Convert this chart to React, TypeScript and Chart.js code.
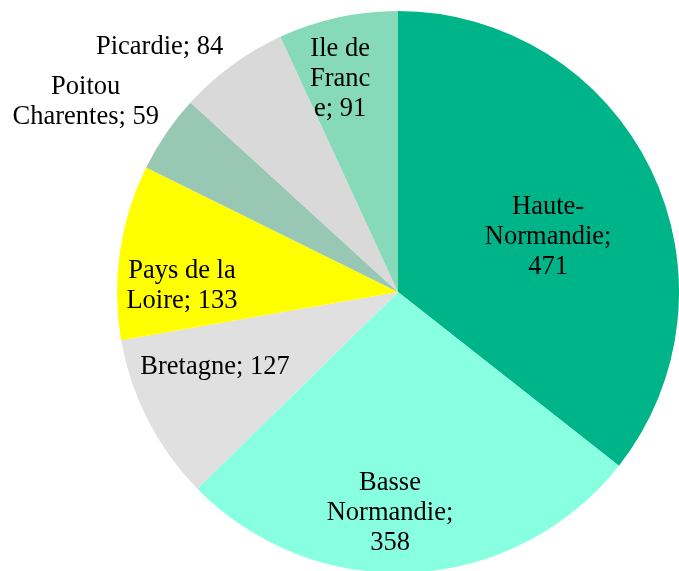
import React, { useEffect, useRef } from "react";
import { Chart, registerables } from "chart.js";

Chart.register(...registerables);

const categories = [
  "Haute-Normandie",
  "Basse Normandie",
  "Bretagne",
  "Pays de la Loire",
  "Poitou Charentes",
  "Picardie",
  "Ile de France",
];
const values = [471, 358, 127, 133, 59, 84, 91];
const colors = ["#00B489", "#88FFE0", "#E0E0E0", "#FFFF00", "#98C8B4", "#D9D9D9", "#86DAB9"];
const labelLines = [
  ["Haute-", "Normandie;", "471"],
  ["Basse", "Normandie;", "358"],
  ["Bretagne; 127"],
  ["Pays de la", "Loire; 133"],
  ["Poitou", "Charentes; 59"],
  ["Picardie; 84"],
  ["Ile de", "Franc", "e; 91"],
];
// label placement: angle offset from slice mid (deg) and radius as fraction of outer radius
const labelAngleOffset = [5.8, 5.2, 4.8, -6.6, -3.1, -8.0, -2.8];
const labelRadius = [0.569, 0.787, 0.704, 0.769, 1.3, 1.217, 0.786];

const FONT = '26.5px "Liberation Serif", "Times New Roman", serif';

const labelPlugin = {
  id: "sliceLabels",
  afterDatasetsDraw(chart: any) {
    const ctx = chart.ctx;
    const meta = chart.getDatasetMeta(0);
    ctx.save();
    ctx.font = FONT;
    ctx.fillStyle = "#000";
    ctx.textAlign = "center";
    ctx.textBaseline = "middle";
    const lh = 30;
    meta.data.forEach((arc: any, i: number) => {
      const p = arc.getProps(["x", "y", "startAngle", "endAngle", "outerRadius"], true);
      const mid = (p.startAngle + p.endAngle) / 2 + (labelAngleOffset[i] * Math.PI) / 180;
      const r = p.outerRadius * labelRadius[i];
      const cx = p.x + r * Math.cos(mid);
      const cy = p.y + r * Math.sin(mid);
      const lines = labelLines[i];
      const y0 = cy - ((lines.length - 1) * lh) / 2;
      lines.forEach((t, j) => ctx.fillText(t, cx, y0 + j * lh));
    });
    ctx.restore();
  },
};

export default function App() {
  const ref = useRef<HTMLCanvasElement>(null);
  useEffect(() => {
    let chart: Chart | null = null;
    let cancelled = false;
    const make = () => {
      if (cancelled || !ref.current) return;
      chart = new Chart(ref.current, {
        type: "pie",
        data: {
          labels: categories,
          datasets: [
            {
              data: values,
              backgroundColor: colors,
              borderWidth: 0,
            },
          ],
        },
        options: {
          responsive: false,
          animation: false,
          layout: { padding: { left: 117, top: 11, right: 0, bottom: 0 } },
          plugins: {
            legend: { display: false },
            tooltip: { enabled: false },
          },
        },
        plugins: [labelPlugin],
      });
    };
    (document as any).fonts
      .load(FONT)
      .then(make, make);
    return () => {
      cancelled = true;
      if (chart) chart.destroy();
    };
  }, []);
  return (
    <div
      style={{
        position: "fixed",
        left: 0,
        top: 0,
        width: 679,
        height: 571,
        overflow: "hidden",
        background: "#fff",
      }}
    >
      <canvas
        ref={ref}
        width={679}
        height={573}
        style={{ position: "absolute", left: 0, top: 0, width: 679, height: 573 }}
      />
    </div>
  );
}
